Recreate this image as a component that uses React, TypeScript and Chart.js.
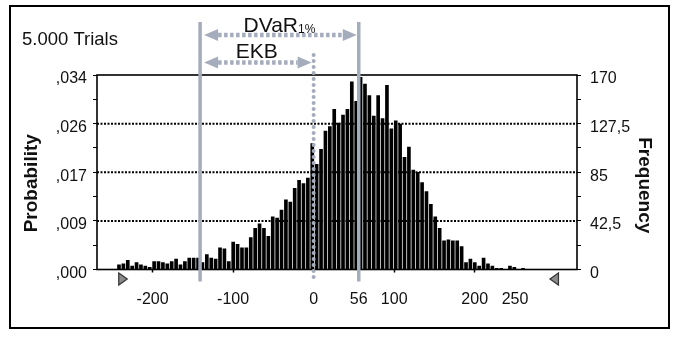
import React, { useEffect, useRef } from "react";
import { Chart, registerables } from "chart.js";

Chart.register(...registerables);

// ---------- data ----------
const TRIALS = 5000;
const binFirstCenter = -241.7;
const binLastCenter = 260.1;
const frequencies = [
  4, 5, 8, 3, 6, 4, 3, 2, 7, 7, 6, 5, 7, 9, 4, 7, 10, 10, 10, 6, 13, 10,
  9, 19, 18, 7, 24, 22, 19, 19, 28, 36, 40, 36, 29, 46, 45, 52, 61, 59, 71, 78, 75, 80,
  110,
  92, 105, 121, 125, 140, 128, 135, 140, 164, 147, 168, 162, 152, 134, 152, 132, 161, 123, 130, 127,
  98, 107, 87, 85, 76, 68, 57, 46, 36, 25, 26, 25, 25, 20, 6, 9, 6, 3, 10, 5, 3, 1, 1, 0, 3, 2, 0, 1,
];
const xMin = -269;
const xMax = 327;
const xTickValues = [-200, -100, 0, 56, 100, 200, 250];
const freqTickValues = [0, 42.5, 85, 127.5, 170];
const freqTickLabels = ["0", "42,5", "85", "127,5", "170"];
const probTickLabels = [",000", ",009", ",017", ",026", ",034"];
const dvarLow = -141;
const dvarHigh = 56;
const ekbValue = 0;
const rangeMin = -242;
const rangeMax = 304;
const titleText = "5.000 Trials";
const leftAxisTitle = "Probability";
const rightAxisTitle = "Frequency";

const FONT = "'Liberation Sans', Arial, sans-serif";
const GREY = "#a5acbc";

const withMinors = (majors: number[]) => {
  const out: number[] = [];
  majors.forEach((v, i) => {
    out.push(v);
    if (i < majors.length - 1) out.push((v + majors[i + 1]) / 2);
  });
  return out;
};

const drawArrow = (ctx: CanvasRenderingContext2D, x1: number, x2: number, y: number) => {
  const len = 14;
  const half = 6;
  ctx.save();
  ctx.strokeStyle = GREY;
  ctx.fillStyle = GREY;
  ctx.lineWidth = 4.5;
  ctx.setLineDash([3.5, 2.5]);
  ctx.beginPath();
  ctx.moveTo(x1 + len, y);
  ctx.lineTo(x2 - len, y);
  ctx.stroke();
  ctx.setLineDash([]);
  ctx.beginPath();
  ctx.moveTo(x1, y);
  ctx.lineTo(x1 + len, y - half);
  ctx.lineTo(x1 + len, y + half);
  ctx.closePath();
  ctx.fill();
  ctx.beginPath();
  ctx.moveTo(x2, y);
  ctx.lineTo(x2 - len, y - half);
  ctx.lineTo(x2 - len, y + half);
  ctx.closePath();
  ctx.fill();
  ctx.restore();
};

const overlayPlugin = {
  id: "overlay",
  beforeDraw(chart: any) {
    const { ctx } = chart;
    ctx.save();
    ctx.fillStyle = "#fff";
    ctx.fillRect(0, 0, chart.width, chart.height);
    ctx.restore();
  },
  beforeDatasetsDraw(chart: any) {
    const { ctx, chartArea: a, scales } = chart;
    const ys = scales.y;
    ctx.save();
    ctx.strokeStyle = "#000";
    ctx.lineWidth = 2;
    ctx.setLineDash([2, 1.5]);
    freqTickValues.slice(1, -1).forEach((v) => {
      const y = ys.getPixelForValue(v);
      ctx.beginPath();
      ctx.moveTo(a.left, y);
      ctx.lineTo(a.right, y);
      ctx.stroke();
    });
    ctx.restore();
  },
  afterDatasetsDraw(chart: any) {
    const { ctx, chartArea: a, scales } = chart;
    const xs = scales.x;
    // plot frame
    ctx.save();
    ctx.strokeStyle = "#000";
    ctx.lineWidth = 1.6;
    ctx.strokeRect(a.left, a.top, a.right - a.left, a.bottom - a.top);
    ctx.restore();

    const pLow = xs.getPixelForValue(dvarLow);
    const pHigh = xs.getPixelForValue(dvarHigh);
    const pEkb = xs.getPixelForValue(ekbValue);

    // EKB dotted line
    ctx.save();
    ctx.strokeStyle = GREY;
    ctx.lineWidth = 4;
    ctx.lineCap = "round";
    ctx.setLineDash([0, 6]);
    ctx.beginPath();
    ctx.moveTo(pEkb, a.top - 20);
    ctx.lineTo(pEkb, a.bottom + 8);
    ctx.stroke();
    ctx.restore();

    // DVaR bounds
    ctx.save();
    ctx.strokeStyle = GREY;
    ctx.lineWidth = 3.5;
    [pLow, pHigh].forEach((x) => {
      ctx.beginPath();
      ctx.moveTo(x, a.top - 53);
      ctx.lineTo(x, a.bottom + 12);
      ctx.stroke();
    });
    ctx.restore();

    const yD = a.top - 40;
    const yE = a.top - 12.5;
    drawArrow(ctx, pLow + 4, pHigh - 2, yD);
    drawArrow(ctx, pLow + 4, pEkb - 2, yE);

    // labels over arrows
    ctx.save();
    ctx.fillStyle = "#111";
    ctx.textBaseline = "alphabetic";
    ctx.font = `21px ${FONT}`;
    const wD = ctx.measureText("DVaR").width;
    ctx.font = `12px ${FONT}`;
    const wS = ctx.measureText("1%").width;
    const startD = (pLow + pHigh) / 2 - (wD + wS) / 2;
    ctx.font = `21px ${FONT}`;
    ctx.textAlign = "left";
    ctx.fillText("DVaR", startD, yD - 3.5);
    ctx.font = `12px ${FONT}`;
    ctx.fillText("1%", startD + wD, yD - 2);
    ctx.font = `21px ${FONT}`;
    ctx.textAlign = "center";
    ctx.fillText("EKB", (pLow + pEkb) / 2, yE - 4.5);

    // title
    ctx.textAlign = "left";
    ctx.font = `18.5px ${FONT}`;
    ctx.fillText(titleText, 22, 45);

    // axis titles
    ctx.font = `bold 19px ${FONT}`;
    ctx.textAlign = "center";
    ctx.textBaseline = "middle";
    ctx.save();
    ctx.translate(32, (a.top + a.bottom) / 2 + 11);
    ctx.rotate(-Math.PI / 2);
    ctx.fillText(leftAxisTitle, 0, 0);
    ctx.restore();
    ctx.save();
    ctx.translate(644, (a.top + a.bottom) / 2 + 13);
    ctx.rotate(Math.PI / 2);
    ctx.fillText(rightAxisTitle, 0, 0);
    ctx.restore();
    ctx.restore();

    // certainty range grabbers
    const tri = (x: number, dir: number) => {
      ctx.save();
      ctx.fillStyle = "#8c8c8c";
      ctx.strokeStyle = "#333";
      ctx.lineWidth = 1.2;
      ctx.beginPath();
      ctx.moveTo(x, a.bottom + 3.5);
      ctx.lineTo(x, a.bottom + 15.5);
      ctx.lineTo(x + dir * 8.5, a.bottom + 9.5);
      ctx.closePath();
      ctx.fill();
      ctx.stroke();
      ctx.restore();
    };
    tri(xs.getPixelForValue(rangeMin), 1);
    tri(xs.getPixelForValue(rangeMax), -1);
  },
  afterDraw(chart: any) {
    const { ctx } = chart;
    ctx.save();
    ctx.strokeStyle = "#000";
    ctx.lineWidth = 2;
    ctx.strokeRect(10, 6, 659, 322);
    ctx.restore();
  },
};

export default function App() {
  const canvasRef = useRef<HTMLCanvasElement | null>(null);

  useEffect(() => {
    document.body.style.margin = "0";
    const canvas = canvasRef.current;
    if (!canvas) return;
    const n = frequencies.length;
    const step = (binLastCenter - binFirstCenter) / (n - 1);
    const points = frequencies.map((f, i) => ({ x: binFirstCenter + i * step, y: f }));
    const freqMax = freqTickValues[freqTickValues.length - 1];
    const freqAll = withMinors(freqTickValues);
    const probAll = freqAll.map((v) => v / TRIALS);

    const tickFont = { family: FONT, size: 16 };

    const chart = new Chart(canvas, {
      type: "bar",
      data: {
        datasets: [
          {
            data: points as any,
            backgroundColor: "#000",
            borderWidth: 0,
            barThickness: 3,
            grouped: false,
            xAxisID: "x",
            yAxisID: "y",
          } as any,
        ],
      },
      options: {
        animation: false,
        responsive: false,
        devicePixelRatio: 1,
        layout: { padding: { top: 75, left: 0, right: 0, bottom: 0 } },
        plugins: { legend: { display: false }, tooltip: { enabled: false } },
        scales: {
          x: {
            type: "linear",
            min: xMin,
            max: xMax,
            offset: false,
            afterBuildTicks: (s: any) => {
              s.ticks = xTickValues.map((v) => ({ value: v }));
            },
            afterFit: (s: any) => {
              s.height = 68.5;
            },
            ticks: {
              autoSkip: false,
              maxRotation: 0,
              minRotation: 0,
              padding: 17,
              color: "#111",
              font: tickFont,
              callback: (v: any) => String(v),
            },
            grid: {
              offset: false,
              drawOnChartArea: false,
              drawTicks: true,
              tickLength: 3,
              tickWidth: 1.5,
              color: "#000",
              tickColor: (c: any) =>
                c.tick && c.tick.value % 100 === 0 && c.tick.value !== 0 ? "#000" : "rgba(0,0,0,0)",
            },
            border: { display: false },
          },
          y: {
            type: "linear",
            position: "right",
            min: 0,
            max: freqMax,
            afterBuildTicks: (s: any) => {
              s.ticks = freqAll.map((v) => ({ value: v }));
            },
            afterFit: (s: any) => {
              s.width = 100;
            },
            ticks: {
              autoSkip: false,
              padding: 9,
              labelOffset: 4,
              color: "#111",
              font: tickFont,
              callback: (_v: any, i: number) => (i % 2 === 0 ? freqTickLabels[i / 2] : ""),
            },
            grid: { drawOnChartArea: false, drawTicks: true, tickLength: 4, color: "#000", tickColor: "#000" },
            border: { display: false },
          },
          yP: {
            type: "linear",
            position: "left",
            min: 0,
            max: freqMax / TRIALS,
            afterBuildTicks: (s: any) => {
              s.ticks = probAll.map((v) => ({ value: v }));
            },
            afterFit: (s: any) => {
              s.width = 97;
            },
            ticks: {
              autoSkip: false,
              padding: 6,
              labelOffset: 4,
              color: "#111",
              font: tickFont,
              callback: (_v: any, i: number) => (i % 2 === 0 ? probTickLabels[i / 2] : ""),
            },
            grid: { drawOnChartArea: false, drawTicks: true, tickLength: 4, color: "#000", tickColor: "#000" },
            border: { display: false },
          },
        },
      } as any,
      plugins: [overlayPlugin as any],
    });
    return () => chart.destroy();
  }, []);

  return (
    <div style={{ width: 677, height: 338 }}>
      <canvas ref={canvasRef} width={677} height={338} style={{ display: "block" }} />
    </div>
  );
}
